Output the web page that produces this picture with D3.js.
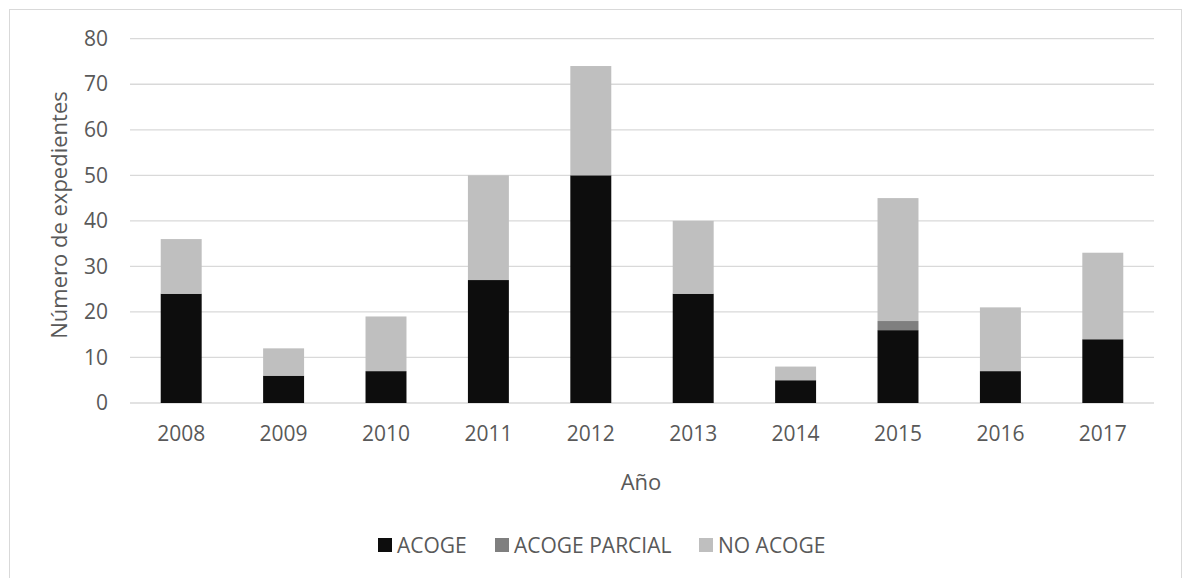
<!DOCTYPE html>
<html>
<head>
<meta charset="utf-8">
<script src="https://cdn.jsdelivr.net/npm/d3@7"></script>
<style>
  html, body { margin: 0; padding: 0; background: #fff; }
  svg { display: block; font-family: "Open Sans", sans-serif; }
</style>
</head>
<body>
<svg id="chart" width="1183" height="578"></svg>
<script>
// Expedientes por año y tipo de resolución
const years = ["2008", "2009", "2010", "2011", "2012", "2013", "2014", "2015", "2016", "2017"];
const acoge =        [24, 6, 7, 27, 50, 24, 5, 16, 7, 14];
const acogeParcial = [0, 0, 0, 0, 0, 0, 0, 2, 0, 0];
const noAcoge =      [12, 6, 12, 23, 24, 16, 3, 27, 14, 19];
const seriesNames = ["ACOGE", "ACOGE PARCIAL", "NO ACOGE"];
const seriesColors = ["#0d0d0d", "#7f7f7f", "#bfbfbf"];
const yTicks = [0, 10, 20, 30, 40, 50, 60, 70, 80];

const svg = d3.select("#chart");

// chart frame
svg.append("rect")
  .attr("x", 9.5).attr("y", 9.5)
  .attr("width", 1172).attr("height", 600)
  .attr("fill", "#fff").attr("stroke", "#d9d9d9").attr("stroke-width", 1);

const plot = { left: 130, right: 1154, top: 38.7, bottom: 403 };

const x = d3.scaleBand().domain(years).range([plot.left, plot.right]).paddingInner(0.6).paddingOuter(0.3);
const y = d3.scaleLinear().domain([0, 80]).range([plot.bottom, plot.top]);

// gridlines
svg.append("g").selectAll("line").data(yTicks).join("line")
  .attr("x1", plot.left).attr("x2", plot.right)
  .attr("y1", d => y(d)).attr("y2", d => y(d))
  .attr("stroke", "#d9d9d9").attr("stroke-width", 1.3);

// stacked bars
const rows = years.map((yr, i) => ({ year: yr, "ACOGE": acoge[i], "ACOGE PARCIAL": acogeParcial[i], "NO ACOGE": noAcoge[i] }));
const stack = d3.stack().keys(seriesNames)(rows);

svg.append("g").selectAll("g").data(stack).join("g")
  .attr("fill", (d, i) => seriesColors[i])
  .selectAll("rect").data(d => d).join("rect")
  .attr("x", d => x(d.data.year))
  .attr("width", x.bandwidth())
  .attr("y", d => y(d[1]))
  .attr("height", d => y(d[0]) - y(d[1]));

// y axis labels
const yAxis = d3.axisLeft(y).tickValues(yTicks).tickSize(0).tickPadding(0);
const gy = svg.append("g").attr("transform", `translate(${plot.left - 22},0)`).call(yAxis);
gy.select(".domain").remove();
gy.selectAll("text").attr("font-size", 21).attr("fill", "#595959").attr("font-family", "Open Sans");

// x axis labels
const xAxis = d3.axisBottom(x).tickSize(0).tickPadding(0);
const gx = svg.append("g").attr("transform", `translate(0,${plot.bottom + 23})`).call(xAxis);
gx.select(".domain").remove();
gx.selectAll("text").attr("font-size", 21).attr("fill", "#595959").attr("font-family", "Open Sans");

// axis titles
svg.append("text")
  .attr("transform", `translate(67,${(92 + 338) / 2}) rotate(-90)`)
  .attr("text-anchor", "middle")
  .attr("font-size", 22).attr("fill", "#595959")
  .text("Número de expedientes");

svg.append("text")
  .attr("x", 641).attr("y", 490)
  .attr("text-anchor", "middle")
  .attr("font-size", 22).attr("fill", "#595959")
  .text("Año");

// legend
const legendItems = [
  { name: seriesNames[0], color: seriesColors[0], x: 378 },
  { name: seriesNames[1], color: seriesColors[1], x: 495 },
  { name: seriesNames[2], color: seriesColors[2], x: 699 }
];
const lg = svg.append("g").selectAll("g").data(legendItems).join("g")
  .attr("transform", d => `translate(${d.x},538)`);
lg.append("rect").attr("width", 14).attr("height", 14).attr("fill", d => d.color);
lg.append("text").attr("x", 19).attr("y", 15)
  .attr("font-size", 21).attr("fill", "#595959")
  .text(d => d.name);
</script>
</body>
</html>
